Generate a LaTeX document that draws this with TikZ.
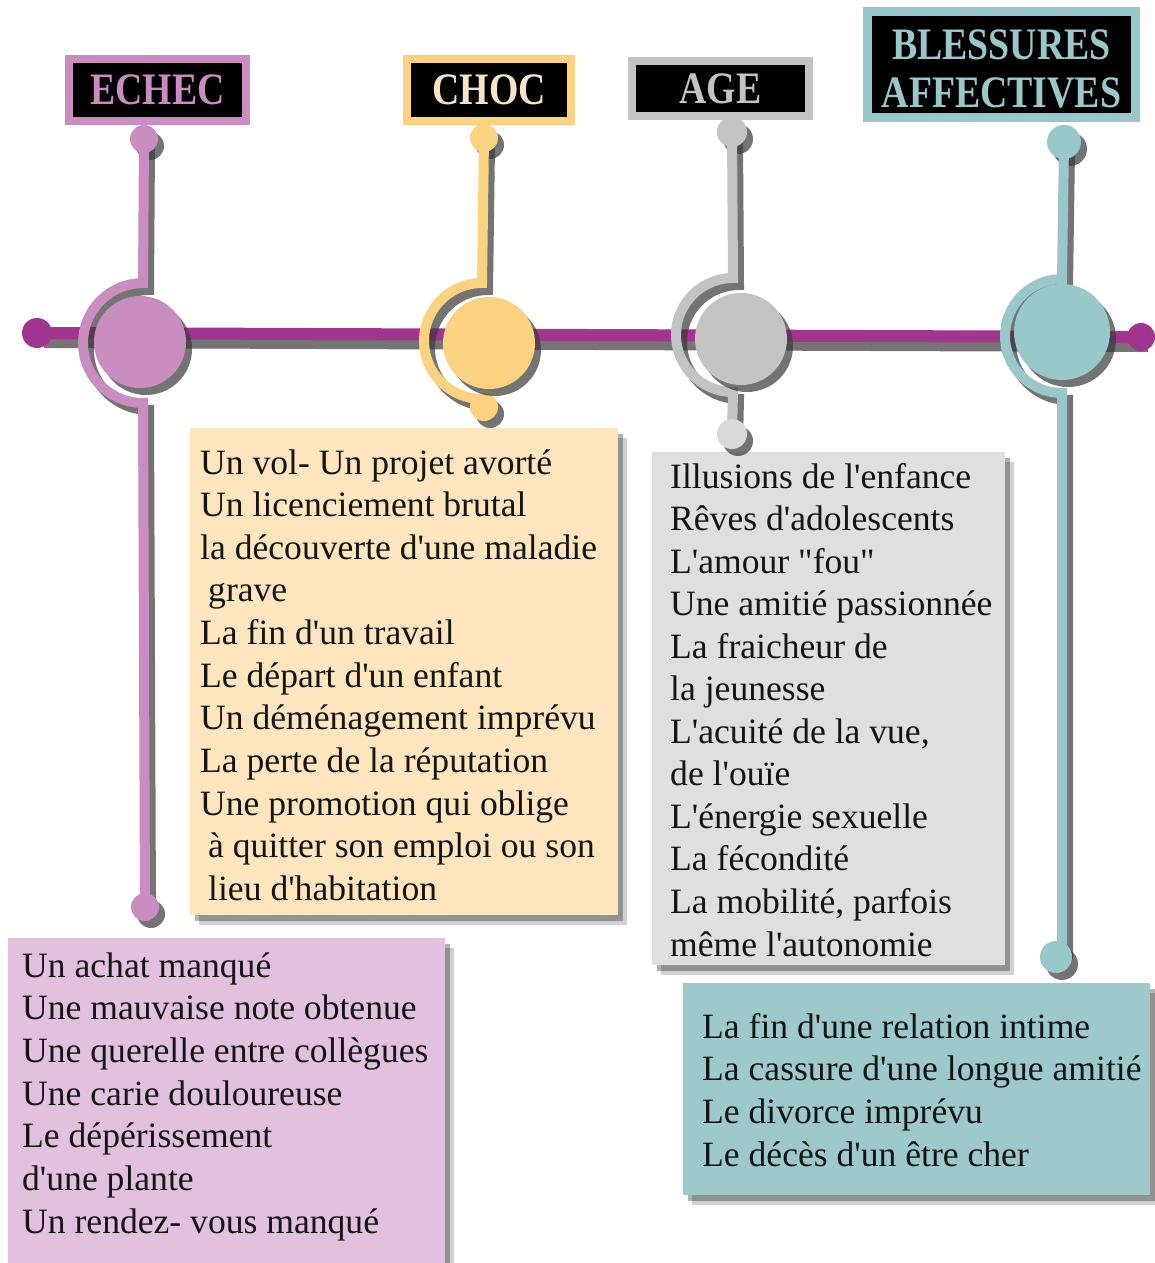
\documentclass[tikz,border=0pt]{standalone}
\usepackage{fontspec}
\newfontfamily\bodyfont{Liberation Serif}
\usetikzlibrary{shadows}
\definecolor{pinkc}{HTML}{C98DC0}
\definecolor{pinkbox}{HTML}{E1C1DD}
\definecolor{magc}{HTML}{A2358F}
\definecolor{yelc}{HTML}{FAD280}
\definecolor{yelbox}{HTML}{FDE6BD}
\definecolor{creamtxt}{HTML}{F6E6C8}
\definecolor{grayc}{HTML}{C3C3C3}
\definecolor{graybox}{HTML}{DFDFDF}
\definecolor{graydot}{HTML}{D9D9D9}
\definecolor{tealc}{HTML}{99C8CA}
\definecolor{tealbox}{HTML}{9DC9CB}
\definecolor{shd}{HTML}{3A3A3A}
\definecolor{ink}{HTML}{141414}
\begin{document}
\begin{tikzpicture}[x=1pt,y=-1pt,
 titlebox/.style={draw=#1, line width=8pt, fill=black, inner sep=0pt, align=center,
   font=\bodyfont\bfseries\fontsize{45}{45}\selectfont},
 listbox/.style={fill=#1, anchor=north west, inner sep=0pt,
   drop shadow={shadow xshift=9pt, shadow yshift=-10pt, fill=black, opacity=.18},
   drop shadow={shadow xshift=5pt, shadow yshift=-6pt, fill=black, opacity=.3}},
 item/.style={anchor=base west, inner sep=0pt, text=ink,
   font=\bodyfont\fontsize{35.6}{42.6}\selectfont},
 disc/.style={circle, fill=#1, inner sep=0pt,
   drop shadow={shadow xshift=6pt, shadow yshift=-7pt, fill=shd, opacity=.7}},
 lineshadow/.style={draw=shd, opacity=.7, transform canvas={shift={#1}}},
 lineshadow/.default={(6pt,-7pt)},
 dotshadow/.style={fill=shd, opacity=.7, transform canvas={shift={(6pt,-7pt)}}},
 rail/.style={line width=10pt, line cap=round}
]
\useasboundingbox (0,0) rectangle (1155,1263);
\fill[white] (0,0) rectangle (1155,1263);

% ---------- list boxes ----------
\node[listbox=yelbox, minimum width=428pt, minimum height=487pt] (bChoc) at (190,428) {};
\node[listbox=graybox, minimum width=353pt, minimum height=513pt] (bAge) at (652,452) {};
\node[listbox=pinkbox, minimum width=437pt, minimum height=340pt] (bEchec) at (8,938) {};
\node[listbox=tealbox, minimum width=467pt, minimum height=212pt] (bBless) at (683,983) {};

\foreach \t [count=\i from 0] in {{Un vol- Un projet avorté},{Un licenciement brutal},
  {la découverte d'une maladie},{\hspace*{8pt}grave},{La fin d'un travail},
  {Le départ d'un enfant},{Un déménagement imprévu},{La perte de la réputation},
  {Une promotion qui oblige},{\hspace*{8pt}à quitter son emploi ou son},
  {\hspace*{8pt}lieu d'habitation}}
  \node[item] (ch\i) at (200,{474+42.65*\i}) {\t};

\foreach \t [count=\i from 0] in {{Illusions de l'enfance},{Rêves d'adolescents},
  {L'amour "fou"},{Une amitié passionnée},{La fraicheur de},{la jeunesse},
  {L'acuité de la vue,},{de l'ouïe},{L'énergie sexuelle},{La fécondité},
  {La mobilité, parfois},{même l'autonomie}}
  \node[item] (ag\i) at (670,{488+42.55*\i}) {\t};

\foreach \t [count=\i from 0] in {{Un achat manqué},{Une mauvaise note obtenue},
  {Une querelle entre collègues},{Une carie douloureuse},{Le dépérissement},
  {d'une plante},{Un rendez- vous manqué}}
  \node[item] (ec\i) at (22,{977+42.7*\i}) {\t};

\foreach \t [count=\i from 0] in {{La fin d'une relation intime},
  {La cassure d'une longue amitié},{Le divorce imprévu},{Le décès d'un être cher}}
  \node[item] (bl\i) at (702,{1038+42.7*\i}) {\t};

% ---------- title boxes ----------
\node[titlebox=pinkc, text=pinkc, minimum width=177pt, minimum height=62pt] (tEchec) at (157.5,90) {\scalebox{0.84}[1]{ECHEC}};
\node[titlebox=yelc, text=creamtxt, minimum width=164pt, minimum height=62pt] (tChoc) at (489,90) {\scalebox{0.84}[1]{CHOC}};
\node[titlebox=grayc, text=grayc, minimum width=177pt, minimum height=55pt] (tAge) at (720.5,88.5) {\scalebox{0.84}[1]{AGE}};
\node[titlebox=tealc, text=tealc, line width=9pt, minimum width=268pt, minimum height=106pt] (tBless) at (1001.5,64.5) {\rule{0pt}{38pt}\scalebox{0.84}[1]{BLESSURES}\\[3pt]\scalebox{0.84}[1]{AFFECTIVES}};

% ---------- main magenta rail ----------
\coordinate (mL) at (37,333);
\coordinate (mR) at (1141,337);
\path[lineshadow={(7pt,-9pt)}, line width=12pt] (mL) -- (mR);
\draw[magc, line width=12pt] (mL) -- (mR);
\fill[magc] (mL) circle (15pt) (mR) circle (14pt);

% ---------- ECHEC station ----------
\coordinate (eT) at (144,139);
\coordinate (eA) at (143,283);
\coordinate (eB) at (143,403);
\coordinate (eD) at (145,907);
\path[lineshadow, rail] (eT) -- (eA) -- plot[domain=90:270, samples=40] ({143+60*cos(\x)},{343-60*sin(\x)}) -- (eB) -- (eD);
\fill[dotshadow] (eT) circle (14pt) (eD) circle (14pt);
\draw[pinkc, rail] (eT) -- (eA) -- plot[domain=90:270, samples=40] ({143+60*cos(\x)},{343-60*sin(\x)}) -- (eB) -- (eD);
\fill[pinkc] (eT) circle (14pt) (eD) circle (14pt);
\node[disc=pinkc, minimum size=92pt] (cEchec) at (140,342) {};

% ---------- CHOC station ----------
\coordinate (cT) at (484,138);
\coordinate (cA) at (482,283);
\coordinate (cB) at (482,399);
\coordinate (cD) at (484,407);
\path[lineshadow, rail] (cT) -- (cA) -- plot[domain=90:270, samples=40] ({482+58*cos(\x)},{341-58*sin(\x)}) -- (cB) -- (cD);
\fill[dotshadow] (cT) circle (14pt) (cD) circle (14pt);
\draw[yelc, rail] (cT) -- (cA) -- plot[domain=90:270, samples=40] ({482+58*cos(\x)},{341-58*sin(\x)}) -- (cB) -- (cD);
\fill[yelc] (cT) circle (14pt) (cD) circle (14pt);
\node[disc=yelc, minimum size=92pt] (cChoc) at (489,343) {};

% ---------- AGE station ----------
\coordinate (aT) at (732,132);
\coordinate (aA) at (733,278);
\coordinate (aB) at (733,392);
\coordinate (aD) at (732,434);
\path[lineshadow, rail] (aT) -- (aA) -- plot[domain=90:270, samples=40] ({733+57*cos(\x)},{335-57*sin(\x)}) -- (aB) -- (aD);
\fill[dotshadow] (aT) circle (15pt) (aD) circle (15pt);
\draw[grayc, rail] (aT) -- (aA) -- plot[domain=90:270, samples=40] ({733+57*cos(\x)},{335-57*sin(\x)}) -- (aB) -- (aD);
\fill[grayc] (aT) circle (15pt);
\fill[graydot] (aD) circle (15pt);
\node[disc=grayc, minimum size=92pt] (cAge) at (741,339) {};

% ---------- BLESSURES station ----------
\coordinate (bT) at (1064,142);
\coordinate (bA) at (1062,279);
\coordinate (bB) at (1062,393);
\coordinate (bD) at (1056,957);
\path[lineshadow, rail] (bT) -- (bA) -- plot[domain=90:270, samples=40] ({1062+57*cos(\x)},{336-57*sin(\x)}) -- (bB) -- (1062,950) -- (bD);
\fill[dotshadow] (bT) circle (17pt) (bD) circle (16pt);
\draw[tealc, rail] (bT) -- (bA) -- plot[domain=90:270, samples=40] ({1062+57*cos(\x)},{336-57*sin(\x)}) -- (bB) -- (1062,950) -- (bD);
\fill[tealc] (bT) circle (17pt) (bD) circle (16pt);
\node[disc=tealc, minimum size=96pt] (cBless) at (1062,332) {};
\end{tikzpicture}
\end{document}
